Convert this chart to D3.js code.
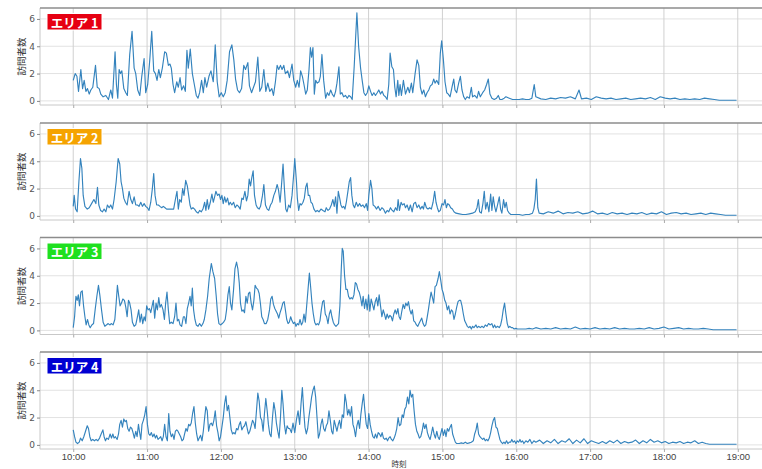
<!DOCTYPE html>
<html><head><meta charset="utf-8">
<script src="https://cdn.jsdelivr.net/npm/d3@7"></script>
<style>body{margin:0;background:#fff}svg{display:block}</style>
</head><body>
<svg id="chart" width="762" height="469"></svg>
<script>
// ---- data: [minutes after 10:00, visitors] ----
const areaNames = ["エリア 1", "エリア 2", "エリア 3", "エリア 4"];
const xTickLabels = ["10:00","11:00","12:00","13:00","14:00","15:00","16:00","17:00","18:00","19:00"];
const yTickValues = [0, 2, 4, 6];
const yLabel = "訪問者数";
const xLabel = "時刻";

const area1 = [[0,1.5],[1.6,2.0],[3,1.8],[4.3,0.7],[6.2,2.3],[7.6,0.9],[8.9,1.5],[10.3,0.7],[11.6,0.9],[13,0.5],[14.3,0.8],[15.9,1.0],[18.1,2.6],[19.5,1.0],[21.1,0.9],[22.4,0.5],[24.3,0.3],[26.5,0.4],[28.6,0.1],[30.5,0.8],[31.9,0.2],[34,3.6],[35.1,1.2],[36.2,0.2],[37.3,2.3],[38.4,2.0],[39.5,2.2],[41.1,0.9],[42.7,0.6],[44,0.4],[45.9,3.4],[47.8,5.1],[49.5,2.4],[50.8,2.0],[52.4,0.8],[54.1,0.4],[55.7,1.8],[57.6,3.1],[58.9,0.6],[60.5,1.2],[62.2,3.0],[63.8,5.1],[65.4,2.2],[66.8,2.0],[68.1,1.5],[69.5,2.3],[70.8,1.7],[72.4,2.4],[74.3,3.6],[75.7,3.5],[77.3,2.6],[78.6,2.7],[79.7,2.4],[81.1,1.2],[82.4,0.6],[84.1,1.4],[85.4,1.0],[86.8,1.7],[88.1,0.8],[89.7,1.1],[91.1,0.7],[92.4,3.7],[93.5,2.4],[95.1,3.8],[96.8,2.0],[98.4,1.2],[100,0.4],[101.4,0.2],[102.7,0.6],[104.3,1.5],[105.7,0.6],[107,1.7],[108.4,1.0],[110.3,1.8],[111.9,2.2],[113.8,1.4],[115.4,4.1],[117,1.4],[118.6,0.3],[120.3,0.6],[121.9,0.3],[123.5,0.6],[125.1,1.5],[127,3.6],[128.9,4.1],[130.5,3.0],[131.9,1.6],[133.5,0.8],[135.1,0.6],[136.8,0.9],[138.6,2.6],[140,2.3],[141.9,2.8],[143.2,1.1],[144.9,0.6],[146.5,1.0],[148.1,1.4],[150,3.2],[151.6,0.7],[153.2,1.0],[154.9,2.3],[156.5,0.7],[158.1,1.3],[159.7,0.7],[161.4,0.9],[162.7,0.4],[164.3,1.4],[165.7,2.6],[167,2.3],[168.4,2.6],[169.7,2.3],[171.1,2.6],[172.4,2.0],[174.3,2.2],[175.7,1.7],
[177.8,2.7],[179.2,1.5],[180.8,1.0],[182.1,1.5],[183.5,1.0],[184.8,2.2],[186.2,1.8],[187.5,1.2],[188.9,0.5],[190.2,0.8],[191.6,2.3],[192.7,3.9],[193.7,3.2],[194.8,3.9],[195.9,0.5],[197,1.5],[198.3,1.3],[199.7,1.4],[200.8,1.8],[202.1,3.4],[203.5,1.5],[205.1,0.2],[206.5,0.6],[207.8,0.4],[209.2,0.8],[210.5,0.5],[211.9,0.3],[213.2,0.7],[214.3,1.3],[215.9,2.5],[217,0.5],[218.3,0.6],[219.7,0.3],[221.3,0.4],[222.7,0.2],[224,0.4],[225.4,0.3],[226.7,0.1],[228.3,2.5],[229.4,4.5],[230.5,6.45],[231.9,4.0],[233.5,2.4],[234.8,1.5],[236.2,0.6],[237.5,0.4],[238.9,0.6],[240.2,1.1],[241.6,0.7],[242.9,0.4],[244.3,0.6],[245.6,0.4],[247,0.6],[248.3,0.8],[249.7,0.5],[251,0.7],[252.4,0.4],[253.7,0.3],[255.1,0.1],[256.4,1.2],[257.5,3.5],[258.9,2.5],[260.2,2.3],[261.3,1.0],[262.4,0.3],[263.7,1.5],[264.6,0.4],[265.6,1.2],[266.7,0.4],[268.3,1.5],[270,0.5],[271.9,1.0],[273.2,0.6],[274.8,1.3],[275.9,0.6],[277.8,2.0],[279.4,3.0],[280.8,2.6],[282.1,1.0],[283.5,0.5],[284.8,0.8],[286.2,0.3],[287.5,0.6],[288.9,0.8],[290.2,1.1],[291.6,1.2],[292.9,1.6],[294,1.3],[295.4,1.5],[297,1.2],[298.3,3.5],[299.4,4.4],[300.8,3.0],[302.1,1.4],[303.5,0.6],[304.8,0.5],[306.2,0.3],[307.8,1.0],[309.2,1.6],[310.2,0.8],[311.6,0.6],[313.2,1.3],[314.6,1.8],[315.9,0.8],[317.3,0.3],[318.6,0.1],[320,0.3],[321.9,0.2],[323.5,1.0],[324.5,0.3],[326.2,0.4],[328.1,0.2],[329.4,0.7],[330.8,0.3],[332.7,0.6],[334.3,0.8],[335.9,1.2],[337.3,1.6],[338.6,0.5],[340.2,0.2],[342.1,0.1],[344,0.2],[345.4,0.4],[346.7,0.1],[348.3,0.1],[350.2,0.2],[351.6,0.3],[354.3,0.2],[357,0.1],[359.7,0.1],[362.4,0.1],[365.1,0.15],[367.8,0.1],[370.5,0.1],[372.7,0.2],[374.6,1.2],[375.9,0.3],
[380,0.15],[384,0.1],[388,0.2],[392,0.15],[396,0.25],[400,0.2],[404,0.3],[408,0.15],[411,0.8],[413,0.15],[417,0.2],[421,0.1],[425,0.3],[429,0.2],[433,0.15],[437,0.2],[441,0.1],[445,0.15],[449,0.2],[453,0.1],[457,0.15],[461,0.2],[465,0.15],[469,0.25],[473,0.1],[477,0.3],[481,0.2],[485,0.15],[489,0.2],[493,0.1],[497,0.15],[501,0.1],[505,0.15],[509,0.1],[513,0.2],[517,0.15],[521,0.1],[525,0.05],[530,0.05],[535,0.05],[539,0.05]];

const area2 = [[0,0.7],[0.8,1.5],[1.9,0.5],[3.2,0.3],[4.6,2.5],[5.9,4.2],[7,3.5],[8.1,1.5],[9.5,0.7],[11.4,0.5],[13,0.6],[14.9,0.9],[16.8,1.2],[18.4,0.9],[19.7,2.1],[20.8,0.8],[22.2,0.4],[23.8,0.3],[25.1,0.5],[26.5,0.3],[27.8,0.8],[29.2,0.6],[30.5,0.8],[31.9,0.5],[33.2,1.2],[34.9,2.5],[36.5,4.2],[37.8,3.8],[38.9,2.5],[40,2.0],[41.1,1.3],[42.4,1.0],[43.8,0.8],[45.4,1.8],[46.8,1.2],[48.1,0.9],[49.5,1.4],[50.8,0.8],[52.2,0.8],[53.5,0.7],[54.9,1.0],[56.2,0.7],[57.6,0.9],[58.9,0.7],[60.3,0.6],[61.6,0.4],[63,1.0],[64.3,2.0],[65.4,3.1],[66.5,1.5],[67.8,0.8],[69.2,0.8],[70.5,0.7],[71.9,0.6],[73.2,0.7],[74.6,0.6],[75.9,0.5],[77.6,0.5],[78.9,0.5],[80.3,0.5],[81.6,0.5],[83,1.2],[84.3,1.8],[85.4,0.5],[86.5,1.2],[87.8,1.0],[88.9,2.0],[90,1.5],[91.4,2.6],[92.7,2.2],[93.8,1.5],[94.9,0.8],[95.9,0.5],[97.3,0.6],[98.6,0.5],[100,0.3],[101.4,0.2],[102.7,0.4],[104.1,0.3],[105.4,0.5],[106.8,1.0],[107.8,0.4],[108.9,1.2],[110,0.5],[111.4,1.0],[112.7,1.6],[113.8,1.0],[114.9,1.4],[115.9,1.8],[117.3,1.5],[118.6,1.6],[119.7,1.2],[120.8,1.5],[121.9,0.9],[123,1.4],[124.1,1.0],[125.4,1.3],[126.5,0.8],[127.6,1.0],[128.9,0.8],[130.3,1.0],[131.6,0.6],[133,0.8],[134.3,0.7],[135.7,0.5],[137,1.3],[138.1,1.2],[139.5,1.8],[140.8,1.1],[141.9,1.5],[143,2.7],[144.1,2.2],[145.1,2.8],[146.2,3.3],[147.3,1.5],[148.6,0.8],[149.7,0.6],[151.1,0.5],[152.2,0.7],[153.8,1.5],[154.9,2.3],[156.2,0.8],[157.6,0.5],[158.9,0.4],[160.3,0.8],[161.6,1.0],[163,1.5],[164.3,1.8],[165.7,2.3],[166.8,1.9],[168.1,1.0],[169.2,2.2],[170.5,3.8],[171.6,2.0],[172.7,0.5],[173.7,0.3],[175.1,0.8],[176.4,0.6],[177.8,1.5],[179.2,3.1],[180,4.2],[181.4,2.5],[182.1,1.3],[183.2,0.4],[184.3,0.9],[185.4,0.8],[186.7,1.0],[187.8,1.3],[188.9,2.1],[190,2.4],[191,1.5],[192.1,1.5],[193.2,1.0],[194.3,0.9],[195.6,0.5],[197,0.3],[198.3,0.4],[199.7,0.3],[201.3,0.5],[202.9,0.4],[204.6,0.3],[205.6,0.6],[207,0.4],[208.3,0.5],[209.7,0.8],[211,1.2],[212.1,0.7],[213.2,1.4],[214.3,0.2],[215.4,1.8],[216.5,1.3],[217.5,0.8],[218.6,0.6],[219.7,0.7],[220.8,0.5],[221.9,1.0],[223.2,1.8],[224.3,2.5],[225.4,2.8],[226.4,1.5],[227.5,0.8],[228.6,0.6],[230,1.0],[231.3,0.7],[232.7,0.9],[234,0.7],[235.4,0.8],[236.7,0.6],[238.1,0.9],[239.2,0.4],[240.2,1.5],[241.6,2.6],[242.7,2.0],[243.7,0.8],[245.1,0.7],[246.4,0.5],[247.8,0.7],[249.4,0.4],[250.8,0.6],[252.1,0.5],[253.7,0.2],[255.1,0.4],[256.4,0.3],[257.8,0.6],[259.2,0.4],[260.5,0.3],[261.9,0.6],[263.2,0.4],[264,1.2],[265.1,0.4],[266.4,1.0],[267.5,0.8],[268.9,0.9],[270,0.6],[271.3,0.8],[272.7,0.4],[274,0.8],[275.4,0.3],[276.7,0.9],[278.1,1.0],[279.4,0.6],[280.8,0.8],[282.1,0.5],[283.5,0.7],[284.6,0.5],[285.6,1.0],[287,0.6],[288.3,0.5],[289.7,0.6],[291,0.5],[292.4,1.0],[293.7,1.8],[294.8,1.0],[295.9,0.6],[297,0.3],[298.3,0.4],[299.7,0.9],[301,0.8],[302.1,1.2],[303.2,0.6],[304.3,0.9],[305.6,0.8],[306.7,0.6],[308.1,0.5],[309.4,0.3],[311,0.2],[313.7,0.15],[316.4,0.1],[319.1,0.1],[321.9,0.15],[324.5,0.2],[326.7,0.3],[328.1,0.6],[329.2,1.2],[330.2,0.3],[331.6,0.2],[332.9,0.9],[334,1.8],[335.1,0.5],[336.4,1.0],[337.8,0.3],[339.2,1.6],[340.2,0.4],[341.3,1.4],[342.4,0.7],[343.5,0.3],[344.8,0.8],[346.2,1.4],[347.3,0.5],[348.3,0.2],[349.7,1.2],[350.8,0.6],[351.9,1.0],[352.9,0.4],[354.3,0.2],[355.6,0.1],[357,0.1],[359.7,0.1],[362.4,0.1],[365.1,0.05],[367.8,0.1],[370.5,0.1],[373.2,0.2],[374.3,0.5],[375.4,1.2],[376.4,2.7],[377.5,0.6],[378.6,0.2],
[382,0.15],[386,0.3],[390,0.2],[394,0.35],[398,0.15],[402,0.25],[406,0.2],[410,0.3],[414,0.15],[418,0.2],[422,0.35],[426,0.15],[430,0.2],[434,0.1],[438,0.25],[442,0.15],[446,0.2],[450,0.1],[454,0.2],[458,0.15],[462,0.25],[466,0.1],[470,0.2],[474,0.15],[478,0.3],[482,0.1],[486,0.2],[490,0.25],[494,0.15],[498,0.2],[502,0.1],[506,0.15],[510,0.2],[514,0.1],[518,0.2],[522,0.15],[526,0.1],[530,0.05],[535,0.05],[539,0.05]];

const area3 = [[0,0.2],[1.1,1.0],[2.2,2.5],[3.2,2.2],[4.1,2.6],[5.1,1.8],[6.2,2.8],[7.3,2.9],[8.4,1.8],[9.5,1.0],[10.5,0.4],[11.6,0.8],[12.7,0.4],[13.8,0.2],[15.1,0.4],[16.5,0.5],[17.8,1.5],[19.2,2.5],[20.5,3.3],[21.6,2.6],[23,1.5],[24.3,0.6],[25.7,0.3],[27,0.4],[28.4,0.5],[29.7,0.4],[31.1,0.5],[32.4,0.4],[33.8,0.8],[34.9,2.0],[35.9,3.3],[37,2.5],[38.1,1.8],[39.2,2.0],[40.3,2.3],[41.6,2.2],[42.7,1.7],[43.8,1.0],[44.9,2.2],[45.9,2.0],[47,1.5],[48.1,0.6],[49.5,0.3],[50.8,0.4],[52.2,1.0],[53.2,1.5],[54.3,0.6],[55.4,1.2],[56.5,0.5],[57.6,1.0],[58.6,0.7],[59.7,1.8],[60.8,1.5],[61.9,1.6],[63,1.3],[64.1,1.8],[65.1,2.2],[66.2,0.9],[67.3,2.0],[68.4,1.5],[69.5,2.4],[70.5,1.7],[71.6,1.9],[73,1.5],[74.1,0.8],[75.1,2.0],[76.2,2.8],[77.3,1.5],[78.4,0.5],[79.7,0.6],[81.1,0.5],[82.4,1.0],[83.5,2.0],[84.6,0.7],[85.7,0.8],[86.8,0.4],[88.1,0.3],[89.5,1.0],[90.5,1.0],[91.6,0.5],[92.7,1.6],[93.8,2.0],[94.9,2.5],[95.9,1.8],[96.8,3.1],[97.8,1.5],[98.9,0.8],[100,0.4],[101.4,0.3],[102.7,0.5],[104.1,0.3],[105.4,0.5],[106.5,0.8],[107.8,1.5],[109.2,2.5],[110.5,3.8],[112.2,4.9],[113.5,4.3],[114.9,3.8],[116.2,2.5],[117.3,1.2],[118.4,0.5],[119.7,0.4],[121.1,0.5],[122.2,0.6],[123.5,0.8],[124.6,1.5],[125.7,2.6],[126.8,3.2],[127.8,2.0],[128.9,1.5],[130.3,3.0],[131.4,4.5],[132.7,5.0],[133.8,4.5],[134.9,3.5],[135.9,2.0],[137,1.4],[138.1,1.5],[139.2,1.3],[140.3,2.5],[141.4,2.0],[142.4,2.7],[143.5,2.8],[144.6,2.0],[145.7,1.5],[146.8,2.2],[147.8,3.3],[148.9,3.1],[150,3.0],[151.1,2.7],[152.2,1.9],[153.2,1.0],[154.3,0.8],[155.4,0.5],[156.8,0.5],[158.1,0.8],[159.5,1.5],[160.5,2.3],[161.6,2.5],[162.7,1.9],[163.8,1.6],[164.9,1.4],[166,1.2],[167,0.9],[168.1,1.3],[169.2,1.6],[170.3,2.0],[171.4,2.1],[172.4,1.5],[173.5,0.8],[174.6,0.5],[175.6,0.6],[176.7,1.0],[177.8,0.7],[178.9,0.5],[180,0.6],[181,0.3],[182.1,0.5],[183.2,0.4],[184.3,0.8],[185.4,0.4],[186.5,0.6],[187.5,1.2],[188.6,0.6],[189.7,1.8],[190.8,3.0],[191.9,4.2],[192.9,3.2],[194,2.0],[195.1,1.2],[196.2,0.6],[197.3,0.4],[198.3,0.5],[199.4,0.4],[200.5,0.7],[201.6,1.5],[202.7,2.1],[203.7,2.2],[204.8,1.2],[205.9,1.0],[207,0.5],[208.1,1.2],[209.2,1.5],[210.2,1.0],[211.3,0.6],[212.4,0.4],[213.5,0.3],[214.6,0.4],[215.6,0.5],[216.7,1.8],[217.8,4.5],[218.6,6.0],[219.4,5.8],[220.5,4.0],[221.6,3.0],[222.7,3.0],[223.7,2.5],[224.8,2.3],[225.9,2.4],[227,2.3],[228.1,2.6],[229.2,3.5],[230.2,3.4],[231.3,3.0],[232.4,2.8],[233.5,2.4],[234.6,1.8],[235.6,2.5],[236.7,1.6],[237.8,2.3],[238.9,1.5],[240,2.6],[241,1.4],[242.1,2.3],[243.2,1.9],[244.3,1.5],[245.4,2.1],[246.5,2.4],[247.5,1.8],[248.6,2.6],[249.7,1.8],[250.8,1.0],[251.9,1.5],[252.9,1.2],[254,0.8],[255.1,1.2],[256.2,0.9],[257.3,1.1],[258.4,1.0],[259.4,0.7],[260.5,1.2],[261.6,1.5],[262.7,1.2],[263.8,1.6],[264.8,1.0],[265.9,0.8],[267,1.4],[268.1,1.9],[269.2,1.6],[270.2,2.0],[271.3,1.8],[272.4,2.1],[273.5,1.5],[274.6,1.2],[275.6,1.5],[276.7,0.7],[277.8,0.6],[278.9,0.4],[280,0.3],[281,0.5],[282.1,0.7],[283.2,0.9],[284.3,0.5],[285.4,0.3],[286.5,0.4],[287.5,0.9],[288.6,1.5],[289.7,2.2],[290.8,2.8],[291.9,2.4],[292.9,2.0],[294,3.2],[295.1,3.3],[296.5,3.8],[297.5,4.3],[298.6,3.7],[299.7,3.0],[300.8,2.7],[301.9,2.2],[302.9,2.0],[304,1.5],[305.1,1.8],[306.2,1.2],[307.3,1.5],[308.3,1.4],[309.4,0.8],[310.5,1.2],[311.6,1.7],[312.7,2.1],[313.7,2.2],[314.8,2.2],[315.9,1.8],[317,1.2],[318.1,0.7],[319.2,0.5],[320.2,0.3],[321.4,0.2],[322.4,0.3],[323.5,0.1],[324.5,0.3],[325.6,0.2],[327.3,0.4],[328.3,0.2],[329.4,0.3],[330.8,0.2],[332.1,0.3],[333.5,0.2],[334.8,0.4],[336.2,0.3],[337.5,0.5],[338.9,0.4],[340.2,0.5],[341.3,0.2],[342.4,0.4],[343.5,0.2],[344.8,0.3],[346.2,0.2],[347.3,0.4],[348.3,0.8],[349.4,1.5],[350.5,2.0],[351.6,1.2],[352.7,0.5],[353.7,0.2],[354.8,0.3],[355.9,0.2],[357,0.2],[358.3,0.1],[359.7,0.15],[361,0.1],[362.4,0.1],[365.1,0.1],[367.8,0.1],[370.5,0.15],[373.2,0.1],[375.9,0.2],
[380,0.1],[384,0.15],[388,0.1],[392,0.2],[396,0.1],[400,0.15],[404,0.1],[408,0.25],[412,0.1],[416,0.15],[420,0.1],[424,0.2],[428,0.1],[432,0.15],[436,0.1],[440,0.2],[444,0.1],[448,0.15],[452,0.1],[456,0.1],[460,0.15],[464,0.1],[468,0.2],[472,0.1],[476,0.15],[480,0.25],[484,0.1],[488,0.15],[492,0.2],[496,0.1],[500,0.15],[504,0.1],[508,0.1],[512,0.15],[516,0.1],[520,0.05],[525,0.05],[530,0.05],[535,0.05],[539,0.05]];

const area4 = [[0,1.1],[1.1,0.6],[2.2,0.2],[3.5,0.1],[4.9,0.2],[5.9,0.5],[7.3,0.3],[8.6,0.6],[10,1.0],[11.4,1.4],[12.4,1.2],[13.5,0.6],[14.6,0.3],[15.9,0.4],[17.3,0.3],[18.6,0.4],[20,0.3],[21.4,0.5],[22.7,0.8],[24.1,1.1],[25.1,0.6],[26.2,0.3],[27.3,0.5],[28.6,0.4],[30,0.8],[31.1,0.5],[32.2,0.8],[33.2,0.5],[34.3,0.6],[35.7,0.4],[36.8,0.8],[37.8,1.5],[38.9,1.8],[40,1.3],[41.1,1.9],[42.2,1.7],[43.2,1.8],[44.3,1.2],[45.4,1.0],[46.5,1.3],[47.6,1.2],[48.6,0.9],[49.7,0.5],[50.8,1.0],[51.9,0.6],[53,1.5],[53.8,1.0],[54.9,0.4],[55.9,1.5],[57,1.8],[58.1,2.2],[59.2,2.8],[60.3,1.5],[61.4,0.8],[62.4,0.7],[63.5,0.9],[64.6,0.6],[65.7,0.8],[66.8,0.5],[67.8,0.7],[68.9,0.4],[70,0.5],[71.1,0.6],[72.2,0.3],[73.2,0.6],[74.3,1.5],[75.4,0.6],[76.5,0.3],[77.6,2.3],[78.6,1.0],[79.7,0.6],[80.8,0.8],[81.9,0.4],[83,1.0],[84.1,1.1],[85.1,1.0],[86.2,0.8],[87.3,0.6],[88.4,0.3],[89.5,0.4],[90.5,0.8],[91.6,1.2],[92.7,1.0],[93.8,1.5],[94.9,1.4],[95.9,1.6],[97,2.3],[98.1,2.8],[99.2,1.6],[100.3,0.8],[101.4,0.3],[102.4,0.5],[103.5,0.7],[104.6,0.3],[105.7,1.0],[106.8,2.0],[107.8,2.8],[108.9,2.5],[110,1.0],[111.1,1.5],[112.2,1.6],[113.2,1.4],[114.3,1.8],[115.4,2.5],[116.5,1.4],[117.6,0.9],[118.6,0.3],[119.7,0.6],[120.8,1.3],[121.9,2.0],[123,3.0],[124.1,3.6],[125.1,2.5],[126.2,2.9],[127.3,2.0],[128.4,1.1],[129.5,0.8],[130.5,0.9],[131.6,0.8],[132.7,1.2],[133.8,1.1],[134.9,1.5],[135.9,1.7],[137,1.1],[138.1,1.3],[139.2,1.4],[140.3,1.7],[141.4,1.2],[142.4,0.8],[143.5,1.0],[144.6,1.4],[145.7,1.8],[146.8,1.6],[147.8,1.2],[148.9,2.5],[150,3.8],[151.1,3.2],[152.2,2.0],[153.2,1.8],[154.3,1.0],[155.4,2.3],[156.5,3.4],[157.6,2.5],[158.6,1.5],[159.7,0.8],[160.8,0.6],[161.9,2.0],[163,3.1],[164.1,2.5],[165.1,1.6],[166.2,1.0],[167.3,0.5],[168.4,2.0],[169.5,4.0],[170.5,3.0],[171.6,1.5],[172.7,0.8],[173.8,1.4],[174.9,1.2],[175.9,1.2],[177.3,0.9],[178.6,1.6],[180,0.9],[181.3,1.8],[182.7,2.5],[184,1.5],[185.1,3.0],[186.2,4.2],[187.3,2.5],[188.3,1.3],[189.4,0.8],[190.5,1.2],[191.6,2.1],[192.7,2.8],[193.7,3.5],[194.8,4.0],[195.9,4.3],[197,3.5],[198.1,2.0],[199.2,0.5],[200.2,0.8],[201.3,1.5],[202.4,1.9],[203.5,1.2],[204.6,1.0],[205.6,1.4],[206.7,1.6],[207.8,2.5],[208.9,1.8],[210,1.0],[211,0.8],[212.1,1.8],[213.2,1.4],[214.3,1.0],[215.4,1.5],[216.4,1.8],[217.5,1.2],[218.6,2.2],[219.7,2.0],[220.8,3.7],[221.9,3.1],[222.9,2.2],[224,2.6],[225.1,2.1],[226.2,2.8],[227.3,1.5],[228.3,1.2],[229.4,0.6],[230.5,1.4],[231.6,1.8],[232.7,1.2],[233.7,2.2],[234.8,3.0],[235.9,3.7],[237,2.5],[238.1,1.5],[239.2,1.2],[240.2,2.3],[241.3,1.5],[242.4,1.0],[243.5,0.6],[244.6,0.5],[245.6,0.8],[246.7,0.5],[247.8,0.9],[248.9,0.8],[250,0.6],[251,0.9],[252.1,0.5],[253.2,0.4],[254.3,0.5],[255.4,0.3],[256.4,0.5],[257.5,0.6],[258.6,0.4],[259.7,0.3],[260.8,0.5],[261.9,0.8],[262.9,1.2],[264,2.0],[265.1,1.4],[266.2,1.5],[267.3,2.2],[268.3,2.0],[269.4,2.6],[270.5,2.8],[271.6,3.5],[272.7,3.0],[273.7,4.0],[274.8,3.5],[275.9,3.7],[277,2.5],[278.1,1.5],[279.2,1.0],[280.2,0.8],[281.3,0.5],[282.4,0.6],[283.5,1.0],[284.6,1.6],[285.6,1.2],[286.7,1.5],[287.8,0.9],[288.9,0.6],[290,0.4],[291,0.8],[292.1,1.3],[293.2,0.8],[294.3,0.5],[295.4,1.0],[296.4,0.6],[297.5,0.4],[298.6,0.8],[299.7,1.2],[300.8,0.7],[301.9,1.1],[302.9,0.6],[304,1.2],[305.1,1.0],[306.2,1.3],[307.3,1.5],[308.3,0.8],[309.4,0.5],[310.5,0.2],[311.6,0.1],[312.7,0.1],[313.7,0.1],[315.4,0.15],[317,0.1],[318.6,0.2],[320.2,0.1],[321.9,0.15],[323.5,0.2],[325.1,0.3],[326.2,0.8],[327.3,1.1],[328.3,1.6],[329.4,0.8],[330.5,0.6],[331.6,0.5],[332.7,0.4],[333.7,0.5],[334.8,0.3],[335.9,0.4],[337,0.3],[338.1,0.5],[339.2,0.9],[340.2,1.4],[341.3,1.8],[342.4,2.0],[343.5,1.3],[344.6,1.2],[345.6,0.8],[346.7,0.4],[347.8,0.2],[348.9,0.1],[350,0.2],[351,0.1],[352.1,0.3],[353.2,0.1],[354.3,0.2],[355.4,0.2],[356.4,0.4],[357.5,0.2],[358.6,0.3],[359.7,0.1],[360.8,0.3],[361.9,0.2],[363,0.4],[364,0.2],[365.1,0.3],[366.2,0.1],[367.8,0.3],[369.4,0.2],[371.1,0.4],[372.7,0.1],[374.3,0.3],[375.9,0.2],
[379,0.35],[382,0.1],[385,0.3],[388,0.15],[391,0.4],[394,0.1],[397,0.3],[400,0.2],[403,0.45],[406,0.1],[409,0.35],[412,0.15],[415,0.45],[418,0.1],[421,0.3],[424,0.2],[427,0.1],[430,0.25],[433,0.1],[436,0.3],[439,0.15],[442,0.35],[445,0.1],[448,0.25],[451,0.15],[454,0.2],[457,0.35],[460,0.1],[463,0.3],[466,0.15],[469,0.4],[472,0.2],[475,0.3],[478,0.15],[481,0.25],[484,0.1],[487,0.2],[490,0.15],[493,0.25],[496,0.1],[499,0.2],[502,0.15],[505,0.3],[508,0.1],[511,0.2],[514,0.1],[517,0.05],[521,0.05],[525,0.05],[530,0.05],[535,0.05],[539,0.05]];

const series = [area1, area2, area3, area4];
const labelColors = ["#e60012", "#f5a300", "#1fe01f", "#0000d2"];

// ---- layout ----
const svg = d3.select("#chart");
const plotLeft = 40, plotRight = 771;
const panelTops = [8, 123, 237.5, 352];
const panelH = 97;
const font = "'DejaVu Sans', 'Noto Sans CJK JP', sans-serif";
const jpFont = "'Noto Sans CJK JP', sans-serif";

const x = d3.scaleLinear().domain([-27, 567]).range([plotLeft, plotRight]);
const hourTicks = xTickLabels.map((_, i) => i * 60);

svg.append("defs").selectAll("clipPath").data(panelTops).join("clipPath")
  .attr("id", (d, i) => "clip" + i)
  .append("rect").attr("x", plotLeft).attr("y", d => d).attr("width", plotRight - plotLeft).attr("height", panelH);

series.forEach((data, i) => {
  const top = panelTops[i];
  const y = d3.scaleLinear().domain([-0.3, 6.8]).range([top + panelH, top]);
  const g = svg.append("g");

  g.append("rect").attr("x", plotLeft).attr("y", top).attr("width", plotRight - plotLeft).attr("height", panelH).attr("fill", "#fff");

  g.selectAll(".hg").data(yTickValues).join("line")
    .attr("x1", plotLeft).attr("x2", plotRight)
    .attr("y1", d => y(d)).attr("y2", d => y(d))
    .attr("stroke", "#e2e2e2").attr("stroke-width", 1);
  g.selectAll(".vg").data(hourTicks).join("line")
    .attr("x1", d => x(d)).attr("x2", d => x(d))
    .attr("y1", top).attr("y2", top + panelH)
    .attr("stroke", "#d0d0d0").attr("stroke-width", 1);

  const line = d3.line().x(d => x(d[0])).y(d => y(d[1]));
  g.append("path").datum(data)
    .attr("clip-path", `url(#clip${i})`)
    .attr("d", line).attr("fill", "none")
    .attr("stroke", "#3483bd").attr("stroke-width", 1.15).attr("stroke-linejoin", "round");

  g.append("line").attr("x1", plotLeft).attr("x2", plotRight).attr("y1", top + panelH).attr("y2", top + panelH).attr("stroke", "#c8c8c8");
  g.append("line").attr("x1", plotLeft).attr("x2", plotLeft).attr("y1", top).attr("y2", top + panelH).attr("stroke", "#c8c8c8");
  g.append("line").attr("x1", plotLeft).attr("x2", plotRight).attr("y1", top).attr("y2", top).attr("stroke", "#8c8c8c").attr("stroke-width", 1.6);

  const ya = g.append("g").attr("transform", `translate(${plotLeft},0)`)
    .call(d3.axisLeft(y).tickValues(yTickValues).tickFormat(d3.format("d")).tickSize(3).tickPadding(2));
  ya.select(".domain").remove();
  ya.selectAll(".tick line").attr("stroke", "#888");
  ya.selectAll(".tick text").attr("fill", "#555").style("font-family", font).style("font-size", "9px");

  g.append("text")
    .attr("transform", `translate(22,${top + panelH / 2}) rotate(-90)`)
    .attr("text-anchor", "middle").attr("dominant-baseline", "middle")
    .attr("fill", "#333").style("font-family", jpFont).style("font-size", "9.5px")
    .text(yLabel);

  const lg = g.append("g");
  lg.append("rect").attr("x", 47).attr("y", top + 5.5).attr("width", 55).attr("height", 16.5)
    .attr("fill", labelColors[i]).attr("stroke", "#fff").attr("stroke-width", 1);
  lg.append("text").attr("x", 74.5).attr("y", top + 14).attr("text-anchor", "middle")
    .attr("dominant-baseline", "central").attr("fill", "#fff")
    .style("font-family", jpFont).style("font-size", "12.5px").style("font-weight", "bold")
    .text(areaNames[i]);

  const xa = g.append("g").attr("transform", `translate(0,${top + panelH})`)
    .call(d3.axisBottom(x).tickValues(hourTicks).tickFormat((d, k) => i === 3 ? xTickLabels[k] : "").tickSize(3).tickPadding(1));
  xa.select(".domain").remove();
  xa.selectAll(".tick line").attr("stroke", "#aaa");
  xa.selectAll(".tick text").attr("fill", "#444").style("font-family", "'Liberation Sans', Arial, sans-serif").style("font-size", "9.5px");
});

svg.append("text").attr("x", 399).attr("y", 467).attr("text-anchor", "middle")
  .attr("fill", "#333").style("font-family", jpFont).style("font-size", "7.5px").text(xLabel);
</script>
</body></html>
